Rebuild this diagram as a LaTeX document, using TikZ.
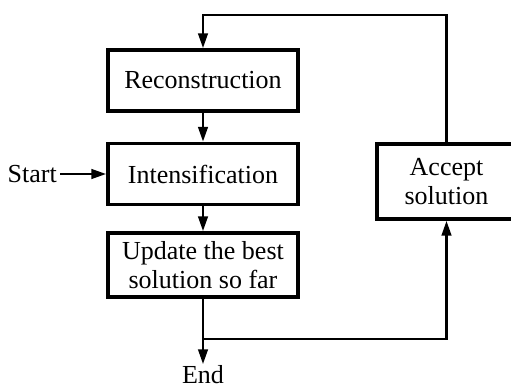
\documentclass[tikz,border=0pt]{standalone}
\usepackage{fontspec}
\setmainfont{Liberation Serif}
\usetikzlibrary{arrows.meta}
\tikzset{
  stage/.style={draw, line width=3.4pt, minimum width=190pt, minimum height=61pt,
    align=center, inner sep=2pt},
  flow/.style={line width=2.8pt, -{Triangle[length=15pt,width=9.5pt]}},
  label/.style={inner sep=3pt}
}
\begin{document}
\begin{tikzpicture}[x=1pt,y=-1pt,font=\fontsize{26}{28.5}\selectfont]
  \useasboundingbox (0,0) rectangle (511,390);
  \node[stage] (recon) at (203,80.5) {Reconstruction};
  \node[stage] (intens) at (203,174) {Intensification};
  \node[stage, minimum height=64pt] (update) at (203,265) {Update the best\\solution so far};
  \node[stage, minimum width=139pt, minimum height=75pt] (accept) at (446.5,181.5) {Accept\\solution};
  \node[label, anchor=east] (start) at (60,174) {Start};
  \node[label, inner sep=1pt, anchor=base] (end) at (203,383.5) {End};
  \coordinate (back) at (203,15);
  \coordinate (split) at (203,339);
  \begin{scope}[flow]
    \draw (accept.north) |- (back) -- (recon.north);
    \draw (recon) -- (intens);
    \draw (start) -- (intens);
    \draw (intens) -- (update);
    \draw (update) -- (end);
    \draw (split) -| (accept.south);
  \end{scope}
\end{tikzpicture}
\end{document}
